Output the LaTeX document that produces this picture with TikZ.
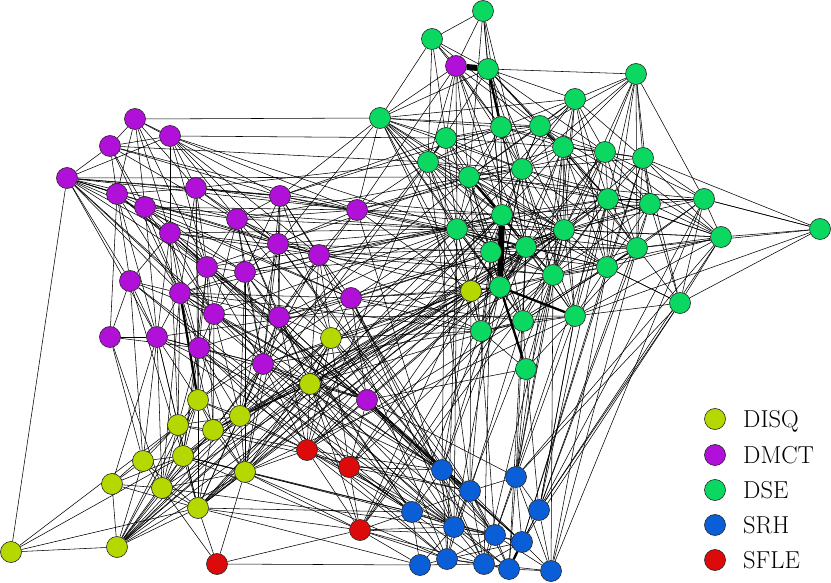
\documentclass[tikz,border=0pt]{standalone}
\usetikzlibrary{backgrounds}
\definecolor{cdisq}{RGB}{180,216,0}
\definecolor{cdmct}{RGB}{176,16,216}
\definecolor{cdse}{RGB}{10,216,96}
\definecolor{csrh}{RGB}{10,94,216}
\definecolor{csfle}{RGB}{220,10,10}
\tikzset{
  nd/.style={circle, draw=black!85, line width=0.6pt, minimum size=21pt, inner sep=0pt},
  disq/.style={nd, fill=cdisq},
  dmct/.style={nd, fill=cdmct},
  dse/.style={nd, fill=cdse},
  srh/.style={nd, fill=csrh},
  sfle/.style={nd, fill=csfle},
  edge/.style={draw=black, line width=0.55pt},
  heavy/.style={draw=black, line width=2.3pt},
  vheavy/.style={draw=black, line width=6pt},
  legtext/.style={anchor=base west, inner sep=0pt, font=\fontsize{24.5}{28}\selectfont}
}
\begin{document}
\begin{tikzpicture}[x=1pt,y=-1pt]
\useasboundingbox (0,0) rectangle (831,583);
% DMCT nodes
\foreach \n/\x/\y in {P1/135/119,P2/110/146,P3/170/136,P4/67/178,P5/117/194,P6/145/207,P7/196/188,P8/280/196,P9/357/210,P10/237/219,P11/170/233,P12/278/244,P13/319/255,P14/207/267,P15/245/272,P16/130/281,P17/180/293,P18/351/298,P19/214/314,P20/279/317,P21/110/337,P22/157/337,P23/199/348,P24/263/364,P25/367/400,P26/456/66}
  \node[dmct] (\n) at (\x,\y) {};
% DSE nodes
\foreach \n/\x/\y in {G1/483/11,G2/432/39,G3/488/69,G4/636/74,G5/575/99,G6/380/118,G7/501/127,G8/540/126,G9/446/138,G10/563/147,G11/605/152,G12/643/158,G13/428/162,G14/522/169,G15/469/177,G16/704/199,G17/608/199,G18/650/204,G19/502/215,G20/820/229,G21/457/229,G22/564/230,G23/721/237,G24/526/247,G25/491/252,G26/637/248,G27/607/267,G28/553/275,G29/500/287,G30/680/303,G31/575/316,G32/523/321,G33/481/331,G34/526/369}
  \node[dse] (\n) at (\x,\y) {};
% DISQ nodes
\foreach \n/\x/\y in {Y1/471/291,Y2/331/338,Y3/310/384,Y4/198/400,Y5/240/416,Y6/178/425,Y7/213/430,Y8/183/456,Y9/143/461,Y10/112/484,Y11/162/488,Y12/245/472,Y13/198/508,Y14/11/552,Y15/117/547}
  \node[disq] (\n) at (\x,\y) {};
% SFLE nodes
\foreach \n/\x/\y in {R1/307/450,R2/349/467,R3/360/530,R4/217/564}
  \node[sfle] (\n) at (\x,\y) {};
% SRH nodes
\foreach \n/\x/\y in {B1/442/470,B2/516/477,B3/470/491,B4/412/512,B5/539/510,B6/454/527,B7/495/535,B8/522/542,B9/447/559,B10/420/565,B11/484/564,B12/509/569,B13/551/571}
  \node[srh] (\n) at (\x,\y) {};
% legend
\node[disq] (L1) at (715,419) {};
\node[dmct] (L2) at (715,455) {};
\node[dse]  (L3) at (715,490) {};
\node[srh]  (L4) at (715,525) {};
\node[sfle] (L5) at (715,560) {};
\node[legtext] (T1) at (743,427.5) {DISQ};
\node[legtext] (T2) at (743,463) {DMCT};
\node[legtext] (T3) at (743,498) {DSE};
\node[legtext] (T4) at (743,533) {SRH};
\node[legtext] (T5) at (743,568) {SFLE};
\begin{pgfonlayer}{background}
\foreach \s/\ts in {
P1/{P2,P3,P5,P6,G6,P8,P11,P7,P14},
P2/{P4,P3,P5,P6,P9,P8,P12,P17,G13},
P3/{P4,P7,P11,P10,G9,P9,P12,P13,G21,P14},
P4/{P7,P5,P8,P9,P10,P12,P13,P16,P17,P22,Y14,P19,G15,P15,B6,P18,P20},
P5/{P6,P11,P16,P17,P21,P7,P14,P22,B3},
P6/{P10,P9,P12,P15,P18,P19,P22,G21,P17,B1},
P7/{P8,P10,P14,P12,P9,G19,P17,P23,Y4,G13},
P8/{P9,P10,P12,P13,P15,P20,G9,G6,Y2,P24,G24,G7,B3},
P9/{P10,P12,P13,G13,G15,G21,G19,G22,G6,P20,Y1,G24,G14,B6},
P10/{P12,P13,P14,P15,P19,G15,P20,Y3,P24,B1,G21},
P11/{P14,P16,P17,P19,P22,P23,G21,P13,Y6,B3,B8,G28},
P12/{P13,P15,P20,P18,G21,G25,Y1,P24,Y5,B3,B7},
P13/{P18,P15,P20,G21,G24,G29,G28,P24,Y2,Y3,G33,B9},
P14/{P15,P17,P19,P20,P23,P24,G15,G21,Y7,Y8,B6},
P15/{P17,P19,P20,P24,Y5,G25,G19,Y12,Y2,B4},
P16/{P17,P21,P22,Y8,Y9,P19,B4,B6},
P17/{P19,P20,P22,P23,Y6,Y7,Y11,P18,P25,G33,G19,B12},
P18/{P20,P25,G33,Y1,G29,G32,Y3,B1,G22,B6,B11},
P19/{P20,P23,P24,Y4,Y7,Y5,P25,G21,B3,B7},
P20/{P24,P25,Y2,Y3,Y12,Y5,G25,G21,B1,B4,G31,R1},
P21/{P22,Y9,Y11,P23},
P22/{P23,Y4,Y6,Y9,Y11,Y13,P24,B4,Y10,B1,G29},
P23/{P24,Y4,Y5,Y6,Y8,Y12,P25,R1,B6,B9,G22},
P24/{Y3,Y5,Y12,Y13,P25,R1,R2,G29,G31,Y7,B1},
P25/{Y3,R2,R1,B1,B3,B2,G34,G29,B7,B8},
P26/{G2,G1,G6,G7,G9,G13,G15,G14,G19,G21,P9,G24,G10},
G1/{G2,G3,G7,G14,G15,G19},
G2/{G3,G6,G9,G13,G8,G7},
G3/{G4,G5,G8,G10,G14,G19,G6,G13,G24,G11,G22,G17},
G4/{G5,G8,G10,G11,G12,G16,G17,G18,G26,G27,G22,G14},
G5/{G6,G7,G8,G10,G12,G14,G15,G17,G22,G28,G27,G11,G21},
G6/{G7,G9,G13,G15,G21,G14,G22,G19,G25,G8,Y1,G29,P12,G33},
G7/{G8,G9,G14,G15,G10,G13,G19,G21,G24,G28,G11},
G8/{G10,G11,G14,G15,G17,G19,G22,G23,G26,G13,G9},
G9/{G13,G15,G14,G10,G19,G22,G21,G25,B1},
G10/{G11,G12,G14,G15,G17,G18,G19,G22,G24,G26,G27,G28,G31,G29,B2},
G11/{G12,G16,G17,G18,G22,G23,G26,G24,G15,G28,G29,B5},
G12/{G16,G17,G18,G23,G30,G22,G26,G14,G27,G20,B8},
G13/{G14,G15,G21,G25,G19,G24,G22,G17,Y1,B3},
G14/{G15,G17,G22,G24,G25,G26,G28,G31,G18,G29,B6},
G15/{G17,G21,G22,G24,G25,G28,G29,G32,G27,G16,B7},
G16/{G18,G20,G23,G26,G30,G17,G27,G22,B13},
G17/{G18,G19,G22,G24,G26,G27,G28,G23,G21,G31,B5,B7},
G18/{G22,G23,G26,G27,G30,G24,G28,G19,G21,B5},
G19/{G21,G22,G24,G25,G28,G31,G32,G26,G27,G33},
G20/{G16,G23,G30,G31,G26},
G21/{G22,G24,G25,G29,G32,G33,G28,G27,G26,Y1,B9},
G22/{G24,G25,G26,G27,G28,G29,G31,G32,G23,B11},
G23/{G26,G27,G30,G31,G28,G22,G17,B2},
G24/{G25,G27,G28,G29,G31,G32,G33,G26,B12},
G25/{G28,G29,G32,G33,G27,G26,Y1,B11},
G26/{G27,G28,G30,G31,G32,B13,B5},
G27/{G28,G30,G31,G32,G29,B8,B13},
G28/{G29,G31,G32,G33,G34,B13},
G29/{G32,G33,Y1},
G30/{G31,B5,B2,B8,G27},
G31/{G32,G34,B5,B2},
G32/{G33,G34},
G33/{G34,Y1},
G34/{B2,B5},
Y1/{Y2,Y3,R1,R2,B1,B3,Y12,Y5,P24},
Y2/{Y3,Y5,Y12,Y7,R1,R2,B1,B6,G21,G33},
Y3/{Y5,Y12,Y7,Y13,R1,R2,R3,B1,B4,G29,G32,G22},
Y4/{Y5,Y6,Y7,Y8,Y11,Y13,Y12,Y15,R1,G21,G15},
Y5/{Y6,Y7,Y8,Y11,Y12,Y13,R1,Y15,G24,G28,G13},
Y6/{Y7,Y8,Y9,Y11,Y13,Y15,Y10,Y14,B3},
Y7/{Y8,Y11,Y12,Y13,Y15,R1,G29,G22,G9},
Y8/{Y9,Y11,Y12,Y13,Y15,Y10,R3,B4,Y14,B7,G24},
Y9/{Y10,Y11,Y13,Y15},
Y10/{Y11,Y15,Y13},
Y11/{Y12,Y13,Y15,R4,B6,G22},
Y12/{Y13,Y15,R3,R1,B4,B9,G31,G19},
Y13/{Y15,Y14,R4,B4,R3,B10,G25,G24,G19,G14,G17},
Y14/{Y15},
Y15/{G21,G19,Y3,Y2,G24},
R1/{R2,R3,B1,B4,B6,B9,G19,G22,G26,G13},
R2/{R3,B4,B1,B6,B3,B11,G28,G24},
R3/{R4,B4,B6,B9,B10,B11,B7,G24,G19,G22,G17},
R4/{B10,Y12},
B1/{B3,B4,B6,B9,B7,B11,B8,G29,G24},
B2/{B3,B5,B7,B8,B12,B13,G22,G28,G24},
B3/{B4,B6,B7,B8,B9,B11,B12,G32,G25},
B4/{B6,B9,B10,B7,G33},
B5/{B8,B12,B13,G23,G16},
B6/{B7,B9,B10,B11,B12,B8,G21,G28},
B7/{B8,B9,B11,B12,B13},
B8/{B9,B11,B13},
B9/{B10,B11,B12},
B10/{B11},
B11/{B12,B13},
B12/{B13}}
  \foreach \t in \ts \draw[edge] (\s) -- (\t);
\draw[vheavy] (P26) -- (G3);
\draw[vheavy] (G19) -- (G29);
\draw[heavy] (G3) -- (G7);
\draw[heavy] (G15) -- (G19);
\draw[heavy] (G29) -- (G31);
\draw[heavy] (G29) -- (G34);
\draw[heavy] (P17) -- (Y4);
\draw[heavy] (B8) -- (B12);
\end{pgfonlayer}
\end{tikzpicture}
\end{document}
